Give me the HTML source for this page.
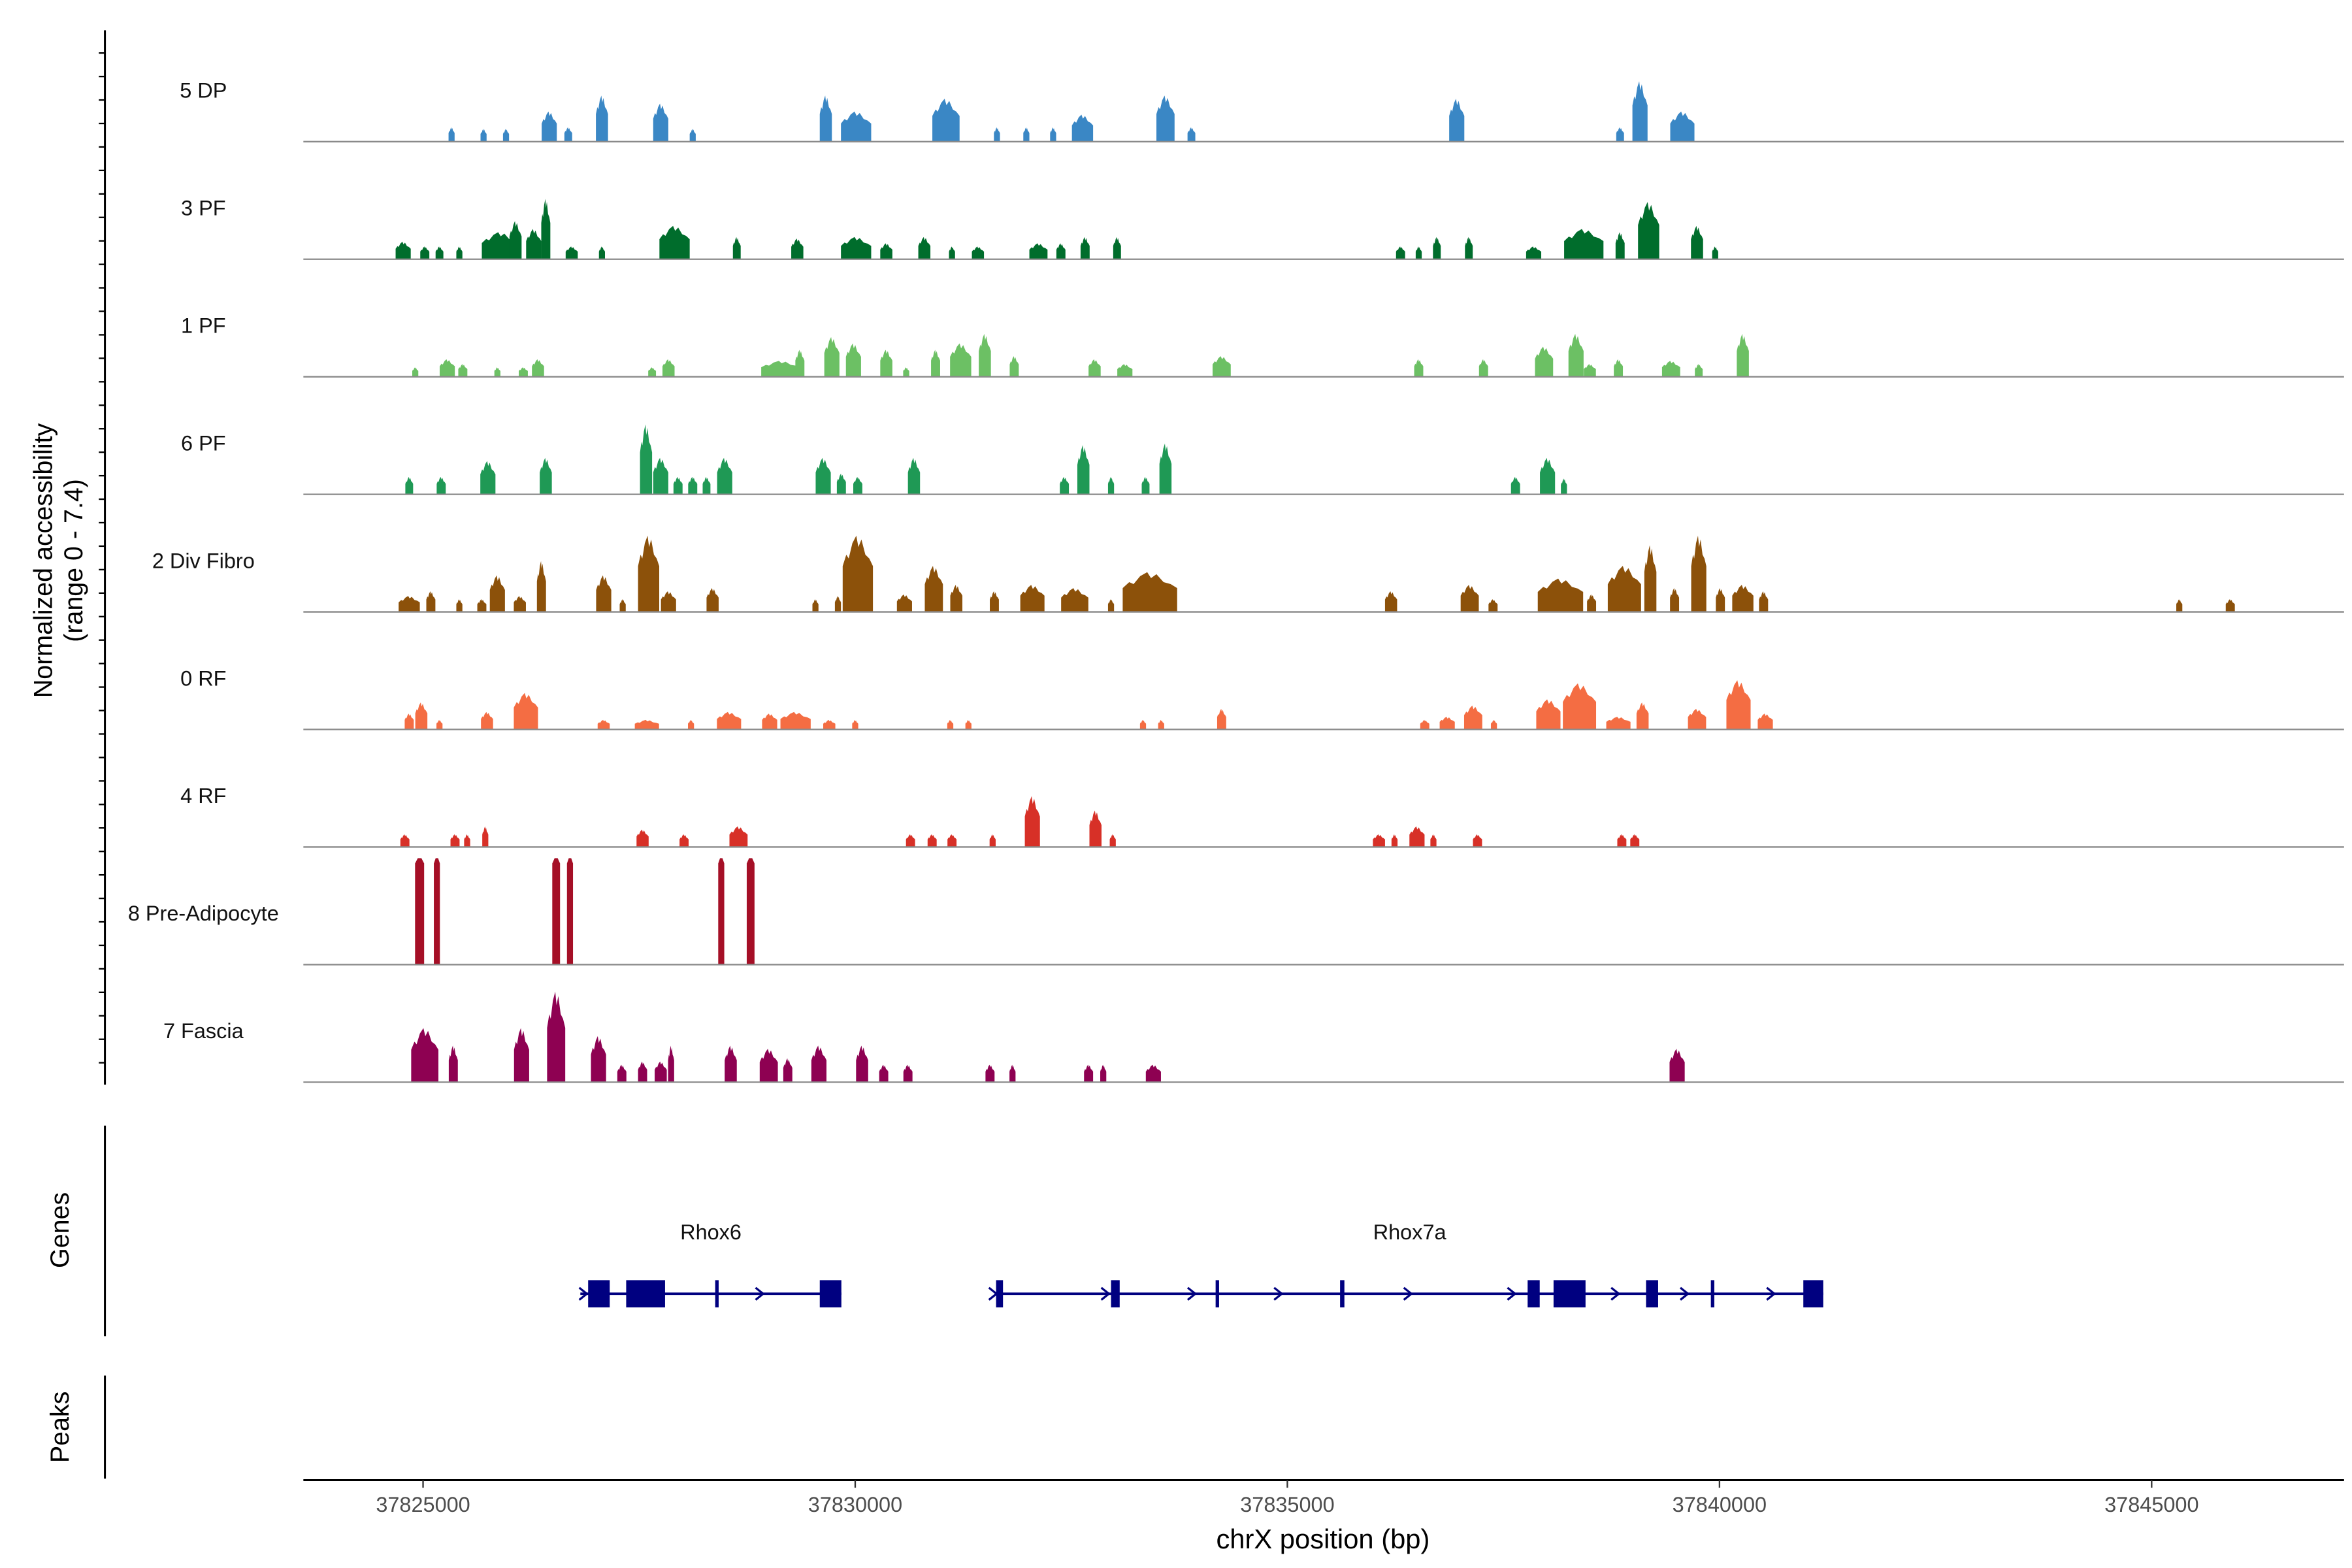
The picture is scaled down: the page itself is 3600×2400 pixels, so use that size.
<!DOCTYPE html>
<html><head><meta charset="utf-8">
<style>
html,body{margin:0;padding:0;background:#fff;}
svg{display:block;}
text{font-family:"Liberation Sans",Arial,sans-serif;}
</style></head>
<body>
<svg id="chart" width="3600" height="2400" viewBox="0 0 1552 1035" xmlns="http://www.w3.org/2000/svg">
<g id="tracks"></g>
<g id="genes"></g>
<g id="axes"></g>
</svg>
<script>
// ---- data (positions in kb, widths in bp, values normalized accessibility) ----
const trackNames = ["5 DP","3 PF","1 PF","6 PF","2 Div Fibro","0 RF","4 RF","8 Pre-Adipocyte","7 Fascia"];
const trackColors = ["#3a87c5","#006d2c","#6cc064","#1f9955","#8c510a","#f46d43","#d73027","#a50f26","#8e0152"];
const dpPos = [37825.33,37825.70,37825.96,37826.46,37826.68,37827.07,37827.75,37828.12,37829.66,37830.01,37831.05,37831.64,37831.98,37832.29,37832.63,37833.59,37833.89,37836.96,37838.85,37839.08,37839.57];
const dpWid = [70,70,70,175,90,140,175,70,140,350,315,70,70,70,245,210,90,175,90,175,280];
const dpVal = [0.9,0.8,0.8,1.9,0.9,2.9,2.4,0.8,2.9,1.9,2.7,0.9,0.9,0.9,1.7,2.9,0.9,2.7,0.9,3.8,1.9];
const pf3Pos = [37824.77,37825.02,37825.19,37825.42,37825.89,37826.07,37826.28,37826.42,37826.72,37827.07,37827.91,37828.63,37829.33,37830.01,37830.36,37830.80,37831.12,37831.42,37832.12,37832.38,37832.66,37833.03,37836.31,37836.52,37836.73,37837.10,37837.85,37838.43,37838.85,37839.18,37839.74,37839.95];
const pf3Wid = [175,105,90,70,420,140,175,105,140,70,350,90,140,350,140,140,70,140,210,105,105,90,105,70,90,90,175,455,105,245,140,70];
const pf3Val = [1.1,0.8,0.8,0.8,1.7,2.4,1.9,3.8,0.8,0.8,2.1,1.4,1.3,1.4,1.0,1.4,0.8,0.8,1.0,1.0,1.4,1.4,0.8,0.8,1.4,1.4,0.8,1.9,1.7,3.6,2.1,0.8];
const pf1Pos = [37824.91,37825.28,37825.46,37825.86,37826.16,37826.33,37827.65,37827.84,37829.14,37829.36,37829.73,37829.98,37830.36,37830.59,37830.93,37831.22,37831.50,37831.84,37832.77,37833.12,37834.24,37836.52,37837.27,37837.97,37838.34,37838.50,37838.83,37839.44,37839.76,37840.27];
const pf1Wid = [70,175,105,70,105,140,90,140,455,105,175,175,140,70,105,245,140,105,140,175,210,105,105,210,175,140,105,210,90,140];
const pf1Val = [0.6,1.1,0.8,0.6,0.6,1.1,0.6,1.1,1.0,1.7,2.5,2.1,1.7,0.6,1.7,2.1,2.7,1.3,1.1,0.8,1.3,1.1,1.1,1.9,2.7,0.8,1.1,1.0,0.8,2.7];
const pf6Pos = [37824.84,37825.21,37825.75,37826.42,37827.58,37827.75,37827.95,37828.12,37828.28,37828.49,37829.63,37829.84,37830.03,37830.68,37832.42,37832.64,37832.96,37833.36,37833.59,37837.64,37838.01,37838.20];
const pf6Wid = [90,105,175,140,140,175,105,105,90,175,175,105,105,140,105,140,70,90,140,105,175,70];
const pf6Val = [1.1,1.1,2.1,2.3,4.4,2.3,1.1,1.1,1.1,2.3,2.3,1.3,1.1,2.3,1.1,3.1,1.1,1.1,3.2,1.1,2.3,1.0];
const divPos = [37824.84,37825.09,37825.42,37825.68,37825.86,37826.12,37826.37,37827.09,37827.31,37827.61,37827.84,37828.35,37829.54,37829.80,37830.03,37830.57,37830.91,37831.17,37831.61,37832.05,37832.54,37832.96,37833.41,37836.20,37837.11,37837.38,37838.16,37838.52,37838.90,37839.20,37839.48,37839.76,37840.01,37840.27,37840.51,37845.32,37845.91];
const divWid = [245,105,70,105,175,140,105,175,70,245,175,140,70,70,350,175,210,140,105,280,315,70,630,140,210,105,525,105,385,140,105,175,105,245,105,70,105];
const divVal = [1.0,1.3,0.8,0.8,2.3,1.0,3.2,2.3,0.8,4.8,1.3,1.5,0.8,1.0,4.8,1.1,2.9,1.7,1.3,1.7,1.5,0.8,2.5,1.3,1.7,0.8,2.1,1.1,2.9,4.2,1.5,4.8,1.5,1.7,1.3,0.8,0.8];
const rf0Pos = [37824.84,37824.98,37825.19,37825.74,37826.19,37827.09,37827.59,37828.10,37828.54,37829.01,37829.31,37829.70,37830.00,37831.10,37831.31,37833.33,37833.54,37834.24,37836.59,37836.85,37837.15,37837.39,37838.02,37838.38,37838.83,37839.11,37839.74,37840.22,37840.53];
const rf0Wid = [105,140,70,140,280,140,280,70,280,175,350,140,70,70,70,70,70,105,105,175,210,70,280,385,280,140,210,280,175];
const rf0Val = [1.0,1.7,0.6,1.1,2.3,0.6,0.6,0.6,1.1,1.0,1.1,0.6,0.6,0.6,0.6,0.6,0.6,1.3,0.6,0.8,1.5,0.6,1.9,2.9,0.8,1.7,1.3,3.1,1.0];
const rf4Pos = [37824.79,37825.37,37825.51,37825.72,37827.54,37828.02,37828.65,37830.64,37830.89,37831.12,37831.59,37832.05,37832.78,37832.98,37836.06,37836.24,37836.50,37836.69,37837.20,37838.87,37839.02];
const rf4Wid = [105,105,70,70,140,105,210,105,105,105,70,175,140,70,140,70,175,70,105,105,105];
const rf4Val = [0.8,0.8,0.8,1.3,1.1,0.8,1.3,0.8,0.8,0.8,0.8,3.2,2.3,0.8,0.8,0.8,1.3,0.8,0.8,0.8,0.8];
const preaPos = [37824.96,37825.16,37826.54,37826.70,37828.45,37828.79];
const preaWid = [105,70,90,70,70,90];
const preaVal = [6.7,6.7,6.7,6.7,6.7,6.7];
const fasPos = [37825.02,37825.35,37826.14,37826.54,37827.03,37827.30,37827.54,37827.75,37827.87,37828.56,37829.00,37829.22,37829.58,37830.08,37830.33,37830.61,37831.56,37831.82,37832.70,37832.87,37833.45,37839.51];
const fasWid = [315,105,175,210,175,105,105,140,70,140,210,105,175,140,105,105,105,70,105,70,175,175];
const fasVal = [3.4,2.3,3.4,5.7,2.9,1.1,1.3,1.3,2.3,2.3,2.1,1.5,2.3,2.3,1.1,1.1,1.1,1.1,1.1,1.1,1.1,2.1];
const tracksPos = [dpPos,pf3Pos,pf1Pos,pf6Pos,divPos,rf0Pos,rf4Pos,preaPos,fasPos];
const tracksWid = [dpWid,pf3Wid,pf1Wid,pf6Wid,divWid,rf0Wid,rf4Wid,preaWid,fasWid];
const tracksVal = [dpVal,pf3Val,pf1Val,pf6Val,divVal,rf0Val,rf4Val,preaVal,fasVal];
const xTicks = [37825000,37830000,37835000,37840000,37845000];
const geneNames = ["Rhox6","Rhox7a"];
const geneStart = [37826.82,37831.63];
const geneEnd = [37829.84,37841.20];
const exonStart = [37826.91,37827.35,37828.38,37829.59,37831.63,37832.96,37834.17,37835.61,37837.78,37838.08,37839.15,37839.90,37840.97];
const exonEnd   = [37827.16,37827.80,37828.42,37829.84,37831.71,37833.06,37834.21,37835.66,37837.92,37838.45,37839.29,37839.94,37841.20];
const arrowPos = [37826.86,37828.90,37831.60,37832.90,37833.90,37834.90,37836.40,37837.60,37838.80,37839.60,37840.60];

// ---- scales ----
const NS="http://www.w3.org/2000/svg";
const X0=279, PXPERKB=57.05;
const xKb = kb => X0 + (kb-37825)*PXPERKB;
const xBp = bp => xKb(bp/1000);
const TRACK_H=77.6, FIRST_BASE=93.5, VMAX=7.4;
const baseY = i => FIRST_BASE + i*TRACK_H;
const yH = v => v/VMAX*TRACK_H;
function el(tag, attrs, parent){const e=document.createElementNS(NS,tag);for(const k in attrs)e.setAttribute(k,attrs[k]);parent.appendChild(e);return e;}

const gT=document.getElementById('tracks');
const profile=[[0,0.6],[0.12,0.75],[0.2,0.7],[0.32,0.9],[0.45,1],[0.52,0.85],[0.62,0.95],[0.75,0.75],[0.88,0.7],[1,0.6]];
tracksPos.forEach((pos,i)=>{
  const b=baseY(i);
  const g=el('g',{},gT);
  
  
  const lab=el('text',{x:134,y:b-29,'font-size':14,'text-anchor':'middle',fill:'#111'},g);
  lab.textContent=trackNames[i];
  
  
  pos.forEach((p,j)=>{
    const cx=xKb(p), w=Math.max(1.5,tracksWid[i][j]*PXPERKB/1000), h=yH(tracksVal[i][j]);
    const x0=cx-w/2;
    let pts=[[x0,b]];
    const prof = i===7 ? [[0,0.95],[0.3,1],[0.7,1],[1,0.95]] : profile;
    prof.forEach(([f,k])=>pts.push([x0+f*w,b-k*h]));
    pts.push([x0+w,b]);
    const poly=el('polygon',{points:pts.map(q=>q[0].toFixed(2)+','+q[1].toFixed(2)).join(' '),fill:trackColors[i]},g);
    
    
  });
  const ln=el('line',{x1:200,x2:1547,y1:b,y2:b,stroke:'#8a8a8a','stroke-width':1},g);
  
  
});

// genes
const gG=document.getElementById('genes');
const GY=854;
geneNames.forEach((n,i)=>{
  const l=el('line',{x1:xKb(geneStart[i]),x2:xKb(geneEnd[i]),y1:GY,y2:GY,stroke:'#000080','stroke-width':1.6},gG);
  
  
  const t=el('text',{x:(xKb(geneStart[i])+xKb(geneEnd[i]))/2,y:818,'font-size':14,'text-anchor':'middle',fill:'#111'},gG);
  t.textContent=n;
  
  
});
exonStart.forEach((s,i)=>{
  const x1=xKb(s), x2=xKb(exonEnd[i]);
  const r=el('rect',{x:x1,y:GY-9,width:Math.max(2,x2-x1),height:18,fill:'#000080'},gG);
  
  
});
arrowPos.forEach(p=>{
  const x=xKb(p);
  const a=el('polyline',{points:`${x-3},${GY-4} ${x+2},${GY} ${x-3},${GY+4}`,fill:'none',stroke:'#000080','stroke-width':1.4},gG);
  
  
});

// axes
const gA=document.getElementById('axes');
function ax(tag,attrs,name){const e=el(tag,attrs,gA);return e;}
ax('line',{x1:69,x2:69,y1:20,y2:716,stroke:'#000','stroke-width':1.3},'y-axis-line');
for(let y=35;y<=716;y+=15.5){ax('line',{x1:65,x2:69,y1:y,y2:y,stroke:'#000','stroke-width':1},'y-axis-tick');}
ax('line',{x1:69,x2:69,y1:743,y2:882,stroke:'#000','stroke-width':1.3},'genes-axis-line');
ax('line',{x1:69,x2:69,y1:908,y2:976,stroke:'#000','stroke-width':1.3},'peaks-axis-line');
const yt=ax('text',{transform:'translate(34,370) rotate(-90)','font-size':17,'text-anchor':'middle',fill:'#000'},'y-axis-title');
yt.textContent='Normalized accessibility';
const yt2=ax('text',{transform:'translate(54,370) rotate(-90)','font-size':17,'text-anchor':'middle',fill:'#000'},'y-axis-subtitle');
yt2.textContent='(range 0 - 7.4)';
const gl=ax('text',{transform:'translate(45,812) rotate(-90)','font-size':17,'text-anchor':'middle',fill:'#000'},'genes-title');
gl.textContent='Genes';
const pl=ax('text',{transform:'translate(45,942) rotate(-90)','font-size':17,'text-anchor':'middle',fill:'#000'},'peaks-title');
pl.textContent='Peaks';
ax('line',{x1:200,x2:1547,y1:977,y2:977,stroke:'#000','stroke-width':1.3},'x-axis-line');
xTicks.forEach(t=>{
  const x=xBp(t);
  ax('line',{x1:x,x2:x,y1:977,y2:982,stroke:'#333','stroke-width':1},'x-axis-tick');
  const tl=ax('text',{x:x,y:998,'font-size':14,'text-anchor':'middle',fill:'#4d4d4d'},'x-tick-label');
  tl.textContent=String(t);
});
const xt=ax('text',{x:873,y:1022,'font-size':18,'text-anchor':'middle',fill:'#000'},'x-axis-title');
xt.textContent='chrX position (bp)';
</script>
</body></html>
